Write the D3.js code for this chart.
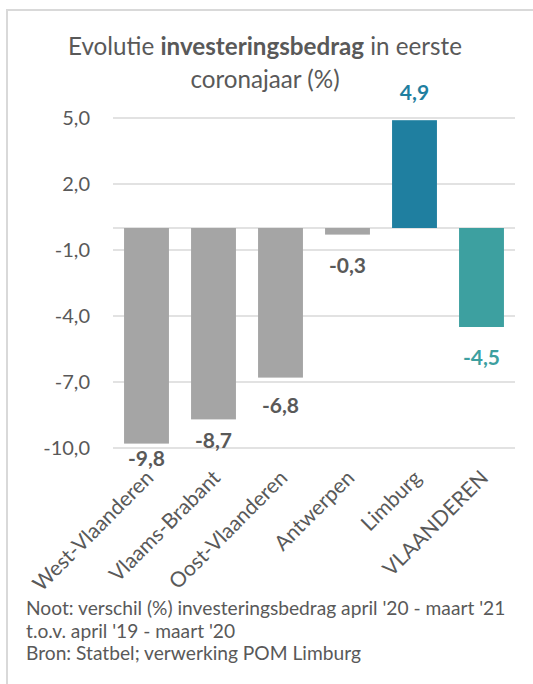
<!DOCTYPE html>
<html>
<head>
<meta charset="utf-8">
<script src="https://cdn.jsdelivr.net/npm/d3@7"></script>
<style>
  body { margin: 0; background: #fff; }
  svg { font-family: Lato, "Open Sans", sans-serif; }
</style>
</head>
<body>
<svg id="grafiek" width="533" height="684"></svg>
<script>
const svg = d3.select("#grafiek");

// gegevens
const regios = ["West-Vlaanderen", "Vlaams-Brabant", "Oost-Vlaanderen", "Antwerpen", "Limburg", "VLAANDEREN"];
const verschil = [-9.8, -8.7, -6.8, -0.3, 4.9, -4.5];
const yTicks = [5, 2, -1, -4, -7, -10];
const voetnoot = [
  "Noot: verschil (%) investeringsbedrag april '20 - maart '21",
  "t.o.v. april '19 - maart '20",
  "Bron: Statbel; verwerking POM Limburg"
];

const grijs = "#595959";
const kleuren = ["#a5a5a5", "#a5a5a5", "#a5a5a5", "#a5a5a5", "#1f7fa0", "#3da0a0"];
const labelKleuren = [grijs, grijs, grijs, grijs, "#1f7fa0", "#3da0a0"];
// afstand label tot uiteinde staaf (px)
const labelAfstand = [7, 13, 20, 23, 20, 23];

const x = d3.scaleBand()
  .domain(regios)
  .range([113, 515])
  .paddingInner(0.33)
  .paddingOuter(0.165);

const y = d3.scaleLinear()
  .domain([-10, 5])
  .range([448, 118]);

const komma = d => d3.format(".1f")(d).replace(".", ",").replace("−", "-");

// kader
svg.append("path")
  .attr("d", "M7,700 V10 H540")
  .attr("fill", "none")
  .attr("stroke", "#d9d9d9")
  .attr("stroke-width", 2);

// titel
const titel = svg.append("text")
  .attr("x", 265)
  .attr("y", 55)
  .attr("text-anchor", "middle")
  .attr("fill", grijs)
  .attr("font-size", 24.2);
titel.append("tspan").text("Evolutie ");
titel.append("tspan").attr("font-weight", "bold").text("investeringsbedrag");
titel.append("tspan").text(" in eerste");
svg.append("text")
  .attr("x", 265)
  .attr("y", 88)
  .attr("text-anchor", "middle")
  .attr("fill", grijs)
  .attr("font-size", 24.2)
  .text("coronajaar (%)");

// rasterlijnen
svg.append("g")
  .selectAll("line")
  .data(yTicks.concat([0]))
  .join("line")
  .attr("x1", 113)
  .attr("x2", 515)
  .attr("y1", d => y(d))
  .attr("y2", d => y(d))
  .attr("stroke", "#d9d9d9")
  .attr("stroke-width", 1.5);

// y-as
const yAs = svg.append("g")
  .attr("transform", "translate(90,0)")
  .call(d3.axisLeft(y).tickValues(yTicks).tickFormat(komma).tickSize(0).tickPadding(0));
yAs.select(".domain").remove();
yAs.selectAll("text")
  .attr("fill", grijs)
  .attr("font-size", 20)
  .attr("font-family", "Lato, sans-serif");

// staven
svg.append("g")
  .selectAll("rect")
  .data(verschil)
  .join("rect")
  .attr("x", (d, i) => x(regios[i]))
  .attr("width", x.bandwidth())
  .attr("y", d => y(Math.max(0, d)))
  .attr("height", d => Math.abs(y(d) - y(0)))
  .attr("fill", (d, i) => kleuren[i]);

// waardelabels
svg.append("g")
  .selectAll("text")
  .data(verschil)
  .join("text")
  .attr("x", (d, i) => x(regios[i]) + x.bandwidth() / 2)
  .attr("y", (d, i) => d < 0 ? y(d) + labelAfstand[i] : y(d) - labelAfstand[i])
  .attr("dy", d => d < 0 ? "0.72em" : "0")
  .attr("text-anchor", "middle")
  .attr("font-weight", "bold")
  .attr("font-size", 21)
  .attr("fill", (d, i) => labelKleuren[i])
  .text(komma);

// categorie-labels
svg.append("g")
  .selectAll("text")
  .data(regios)
  .join("text")
  .attr("transform", d => `translate(${x(d) + x.bandwidth() / 2 + 3},474) rotate(-45)`)
  .attr("text-anchor", "end")
  .attr("dy", "0.35em")
  .attr("font-size", 21)
  .attr("fill", grijs)
  .text(d => d);

// voetnoot
svg.append("g")
  .selectAll("text")
  .data(voetnoot)
  .join("text")
  .attr("x", 26)
  .attr("y", (d, i) => 615 + i * 22.5)
  .attr("font-size", 19.2)
  .attr("fill", grijs)
  .text(d => d);
</script>
</body>
</html>
